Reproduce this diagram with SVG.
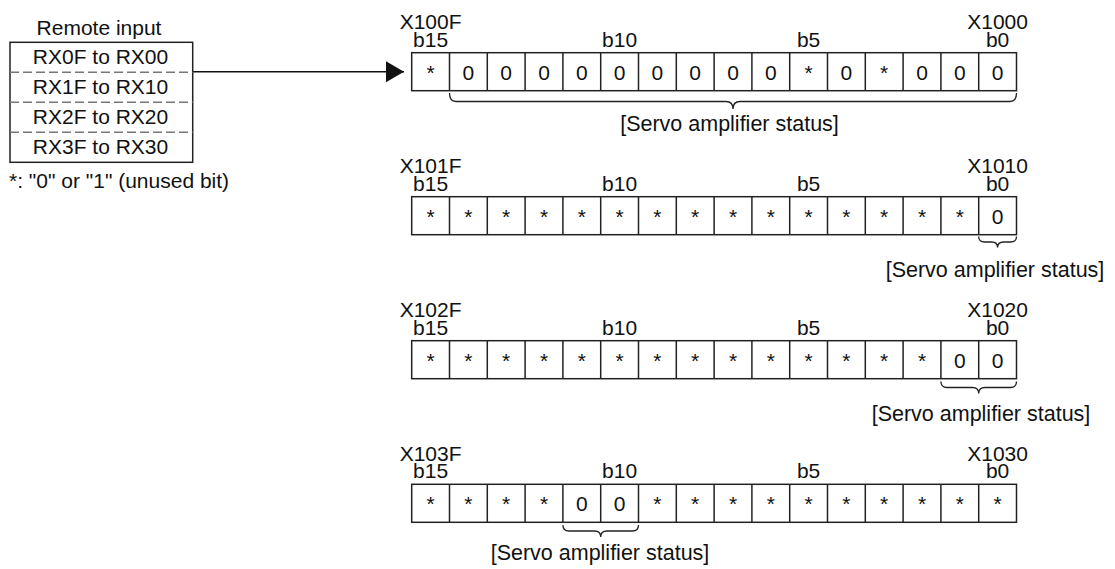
<svg xmlns="http://www.w3.org/2000/svg" width="1115" height="569" viewBox="0 0 1115 569">
<style>
text{font-family:"Liberation Sans",Arial,sans-serif;font-size:21px;fill:#111}
.c{text-anchor:middle}
.s{font-size:21.5px}
.box{fill:#fff;stroke:#222;stroke-width:1.5}
.grid{fill:none;stroke:#222;stroke-width:1.5}
.dash{fill:none;stroke:#777;stroke-width:1.5;stroke-dasharray:9 4}
.brace{fill:none;stroke:#222;stroke-width:1.3}
.conn{fill:none;stroke:#111;stroke-width:1.5}
</style>
<defs>
<marker id="ah" markerUnits="userSpaceOnUse" markerWidth="19" markerHeight="22" refX="18" refY="10.5" orient="auto">
<path d="M0,0 L18,10.5 L0,21 z" fill="#111"/>
</marker>
<g id="cells">
<rect class="box" x="411.7" y="0" width="604.8" height="38"/>
<path class="grid" d="M449.5,0V38M487.3,0V38M525.1,0V38M562.9,0V38M600.7,0V38M638.5,0V38M676.3,0V38M714.1,0V38M751.9,0V38M789.7,0V38M827.5,0V38M865.3,0V38M903.1,0V38M940.9,0V38M978.7,0V38"/>
<text class="c" x="430.6" y="-6">b15</text>
<text class="c" x="619.6" y="-6">b10</text>
<text class="c" x="808.6" y="-6">b5</text>
<text class="c" x="997.6" y="-6">b0</text>
</g>
</defs>

<g id="remote-input">
<text class="c" x="99" y="35">Remote input</text>
<rect class="box" x="10" y="42.3" width="182.7" height="120"/>
<path class="dash" d="M10,72.3H192.7M10,102.3H192.7M10,132.3H192.7"/>
<text class="c" x="100.5" y="64">RX0F to RX00</text>
<text class="c" x="100.5" y="94">RX1F to RX10</text>
<text class="c" x="100.5" y="124">RX2F to RX20</text>
<text class="c" x="100.5" y="154">RX3F to RX30</text>
</g>

<g id="note">
<text x="9" y="188">*: "0" or "1" (unused bit)</text>
</g>

<g id="connectors">
<line class="conn" x1="192.7" y1="71.7" x2="404" y2="71.7" marker-end="url(#ah)"/>
</g>

<g id="reg-x1000" transform="translate(0,52.7)">
<use href="#cells"/>
<text class="c" x="430.6" y="-23.5">X100F</text>
<text class="c" x="997.6" y="-23.5">X1000</text>
<text class="c" x="430.6" y="27">*</text>
<text class="c" x="468.4" y="27">0</text>
<text class="c" x="506.2" y="27">0</text>
<text class="c" x="544" y="27">0</text>
<text class="c" x="581.8" y="27">0</text>
<text class="c" x="619.6" y="27">0</text>
<text class="c" x="657.4" y="27">0</text>
<text class="c" x="695.2" y="27">0</text>
<text class="c" x="733" y="27">0</text>
<text class="c" x="770.8" y="27">0</text>
<text class="c" x="808.6" y="27">*</text>
<text class="c" x="846.4" y="27">0</text>
<text class="c" x="884.2" y="27">*</text>
<text class="c" x="922" y="27">0</text>
<text class="c" x="959.8" y="27">0</text>
<text class="c" x="997.6" y="27">0</text>
</g>
<g id="status-1">
<path class="brace" d="M449.5,93 Q449.5,101.5 456,101.5 L726,101.5 Q733,101.5 733,109 Q733,101.5 740,101.5 L1010,101.5 Q1016.5,101.5 1016.5,93"/>
<text class="c s" x="729.5" y="131">[Servo amplifier status]</text>
</g>

<g id="reg-x1010" transform="translate(0,196.7)">
<use href="#cells"/>
<text class="c" x="430.6" y="-23.5">X101F</text>
<text class="c" x="997.6" y="-23.5">X1010</text>
<text class="c" x="430.6" y="27">*</text>
<text class="c" x="468.4" y="27">*</text>
<text class="c" x="506.2" y="27">*</text>
<text class="c" x="544" y="27">*</text>
<text class="c" x="581.8" y="27">*</text>
<text class="c" x="619.6" y="27">*</text>
<text class="c" x="657.4" y="27">*</text>
<text class="c" x="695.2" y="27">*</text>
<text class="c" x="733" y="27">*</text>
<text class="c" x="770.8" y="27">*</text>
<text class="c" x="808.6" y="27">*</text>
<text class="c" x="846.4" y="27">*</text>
<text class="c" x="884.2" y="27">*</text>
<text class="c" x="922" y="27">*</text>
<text class="c" x="959.8" y="27">*</text>
<text class="c" x="997.6" y="27">0</text>
</g>
<g id="status-2">
<path class="brace" d="M978.7,236.5 Q978.7,242 984.5,242 L991.5,242 Q997.6,242 997.6,247.5 Q997.6,242 1003.5,242 L1010.5,242 Q1016.5,242 1016.5,236.5"/>
<text class="c s" x="995" y="277">[Servo amplifier status]</text>
</g>

<g id="reg-x1020" transform="translate(0,340.7)">
<use href="#cells"/>
<text class="c" x="430.6" y="-23.5">X102F</text>
<text class="c" x="997.6" y="-23.5">X1020</text>
<text class="c" x="430.6" y="27">*</text>
<text class="c" x="468.4" y="27">*</text>
<text class="c" x="506.2" y="27">*</text>
<text class="c" x="544" y="27">*</text>
<text class="c" x="581.8" y="27">*</text>
<text class="c" x="619.6" y="27">*</text>
<text class="c" x="657.4" y="27">*</text>
<text class="c" x="695.2" y="27">*</text>
<text class="c" x="733" y="27">*</text>
<text class="c" x="770.8" y="27">*</text>
<text class="c" x="808.6" y="27">*</text>
<text class="c" x="846.4" y="27">*</text>
<text class="c" x="884.2" y="27">*</text>
<text class="c" x="922" y="27">*</text>
<text class="c" x="959.8" y="27">0</text>
<text class="c" x="997.6" y="27">0</text>
</g>
<g id="status-3">
<path class="brace" d="M940.9,381.5 Q940.9,387.5 947,387.5 L972.5,387.5 Q978.7,387.5 978.7,393.5 Q978.7,387.5 985,387.5 L1010.5,387.5 Q1016.5,387.5 1016.5,381.5"/>
<text class="c s" x="981" y="421">[Servo amplifier status]</text>
</g>

<g id="reg-x1030" transform="translate(0,484.3)">
<use href="#cells"/>
<text class="c" x="430.6" y="-23.5">X103F</text>
<text class="c" x="997.6" y="-23.5">X1030</text>
<text class="c" x="430.6" y="27">*</text>
<text class="c" x="468.4" y="27">*</text>
<text class="c" x="506.2" y="27">*</text>
<text class="c" x="544" y="27">*</text>
<text class="c" x="581.8" y="27">0</text>
<text class="c" x="619.6" y="27">0</text>
<text class="c" x="657.4" y="27">*</text>
<text class="c" x="695.2" y="27">*</text>
<text class="c" x="733" y="27">*</text>
<text class="c" x="770.8" y="27">*</text>
<text class="c" x="808.6" y="27">*</text>
<text class="c" x="846.4" y="27">*</text>
<text class="c" x="884.2" y="27">*</text>
<text class="c" x="922" y="27">*</text>
<text class="c" x="959.8" y="27">*</text>
<text class="c" x="997.6" y="27">*</text>
</g>
<g id="status-4">
<path class="brace" d="M562.9,525 Q562.9,531 569,531 L594.5,531 Q600.7,531 600.7,537 Q600.7,531 607,531 L632.5,531 Q638.5,531 638.5,525"/>
<text class="c s" x="600" y="560">[Servo amplifier status]</text>
</g>
</svg>
